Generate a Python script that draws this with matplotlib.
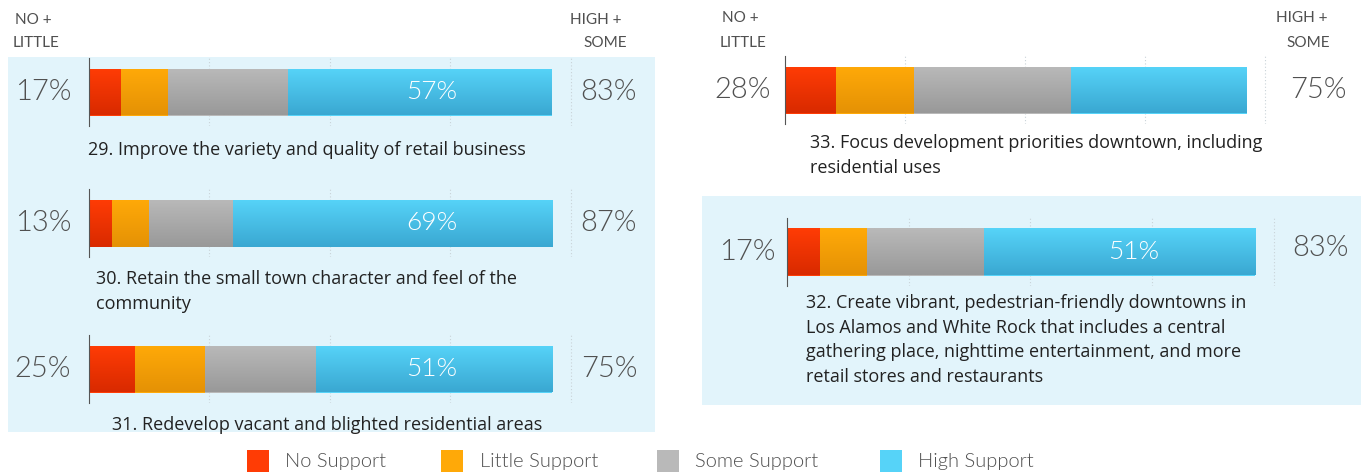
import matplotlib
matplotlib.use("Agg")
import matplotlib.pyplot as plt
import numpy as np
from matplotlib.colors import to_rgb
from matplotlib.patches import Rectangle

W, H = 1361, 474

# ---- data ----
questions = [
    "29. Improve the variety and quality of retail business",
    "30. Retain the small town character and feel of the\ncommunity",
    "31. Redevelop vacant and blighted residential areas",
    "33. Focus development priorities downtown, including\nresidential uses",
    "32. Create vibrant, pedestrian-friendly downtowns in\nLos Alamos and White Rock that includes a central\n"
    "gathering place, nighttime entertainment, and more\nretail stores and restaurants",
]
no_support = [7, 5, 10, 11, 7]
little_support = [10, 8, 15, 17, 10]
some_support = [26, 18, 24, 34, 25]
high_support = [57, 69, 51, 38, 58]
no_little_labels = ["17%", "13%", "25%", "28%", "17%"]
high_some_labels = ["83%", "87%", "75%", "75%", "83%"]
high_labels = ["57%", "69%", "51%", "", "51%"]
series_names = ["No Support", "Little Support", "Some Support", "High Support"]
grid_pcts = [26, 52, 78, 104]

# (top, bottom) shades for the slight vertical gradient of each series
SHADES = [("#ff3c05", "#d92a00"), ("#ffa908", "#e59205"),
          ("#b9b9b9", "#999999"), ("#56d3f8", "#3aa8d2")]
BG = "#e2f4fb"
GREY_TXT = "#505050"

# ---- layout in pixels ----
bar_left = [89, 89, 89, 785, 787]
bar_center = [92, 223, 369, 90, 252]
px_per_pct = [4.63, 4.63, 4.63, 4.62, 4.68]
left_lbl_x = [43, 43, 43, 743, 747]
right_lbl_x = [609, 609, 609, 1318, 1320]
right_lbl_dy = [0, 0, 0, 0, -4]
q_pos = [(88, 141), (96, 270), (112, 416), (810, 134), (806, 294)]
BAR_H = 47


def fx(x):
    return x / W


def fy(y):
    return 1 - y / H


def gradient(top, bottom, n=32):
    t = np.linspace(0, 1, n)[:, None]
    return (np.array(to_rgb(top)) * (1 - t) + np.array(to_rgb(bottom)) * t)[:, None, :]


fig = plt.figure(figsize=(W / 100, H / 100), dpi=100, facecolor="white")

# panel backgrounds
for (x0, y0, x1, y1) in [(8, 57, 655, 432), (702, 196, 1361, 405)]:
    fig.patches.append(Rectangle((fx(x0), fy(y1)), fx(x1 - x0), (y1 - y0) / H,
                                 transform=fig.transFigure, facecolor=BG,
                                 edgecolor="none", zorder=-5))

# headers
hdr = dict(fontsize=11, color=GREY_TXT, family="Lato", va="center")
for x, y, s in [(15, 20, "NO +"), (13, 43, "LITTLE"), (570, 20, "HIGH +"), (583, 43, "SOME"),
                (722, 18, "NO +"), (720, 43, "LITTLE"), (1276, 18, "HIGH +"), (1286, 43, "SOME")]:
    fig.text(fx(x), fy(y), s, ha="left", **hdr)

ylim = 0.73
for i in range(len(questions)):
    ppp = px_per_pct[i]
    ax_w = ppp * 106
    ax_h = BAR_H * 2 * ylim
    ax = fig.add_axes([fx(bar_left[i]), fy(bar_center[i] + ax_h / 2), ax_w / W, ax_h / H])
    ax.patch.set_alpha(0)
    for s in ["top", "right", "bottom"]:
        ax.spines[s].set_visible(False)
    ax.spines["left"].set_color("#555555")
    ax.spines["left"].set_linewidth(0.8)
    for g in grid_pcts:
        ax.axvline(g, color="#c9d3d8", lw=0.8, ls=(0, (1, 2)), zorder=0)

    vals = [no_support[i], little_support[i], some_support[i], high_support[i]]
    left = 0
    for v, (top, bot) in zip(vals, SHADES):
        bar = ax.barh(0, v, left=left, height=1.0, color=top, edgecolor="none", zorder=2)[0]
        im = ax.imshow(gradient(top, bot), extent=[left, left + v, -0.5, 0.5],
                       aspect="auto", interpolation="bilinear", zorder=2.5)
        im.set_clip_path(bar)
        left += v
    ax.set_xlim(0, 106)
    ax.set_ylim(-ylim, ylim)
    ax.set_xticks([])
    ax.set_yticks([])
    if high_labels[i]:
        ax.text(74, 0, high_labels[i], color="white", fontsize=19, family="Lato",
                fontweight=300, ha="center", va="center", zorder=3)

    fig.text(fx(left_lbl_x[i]), fy(bar_center[i]), no_little_labels[i], fontsize=21,
             family="Lato", fontweight=300, color=GREY_TXT, ha="center", va="center")
    fig.text(fx(right_lbl_x[i]), fy(bar_center[i] + right_lbl_dy[i]), high_some_labels[i],
             fontsize=21, family="Lato", fontweight=300, color=GREY_TXT,
             ha="center", va="center")

    qx, qy = q_pos[i]
    fig.text(fx(qx), fy(qy), questions[i], fontsize=13, family="Open Sans",
             color="#222222", ha="left", va="top", linespacing=1.47)

# legend
leg_x = [(247, 285), (441, 480), (657, 695), (880, 918)]
for (sx, tx), name, (top, bot) in zip(leg_x, series_names, SHADES):
    fig.patches.append(Rectangle((fx(sx), fy(472)), 22 / W, 22 / H,
                                 transform=fig.transFigure, facecolor=top, edgecolor="none"))
    fig.text(fx(tx), fy(461), name, fontsize=14.5, family="Lato", fontweight=300,
             color=GREY_TXT, ha="left", va="center")

fig.savefig("out.png", dpi=100, facecolor="white")
